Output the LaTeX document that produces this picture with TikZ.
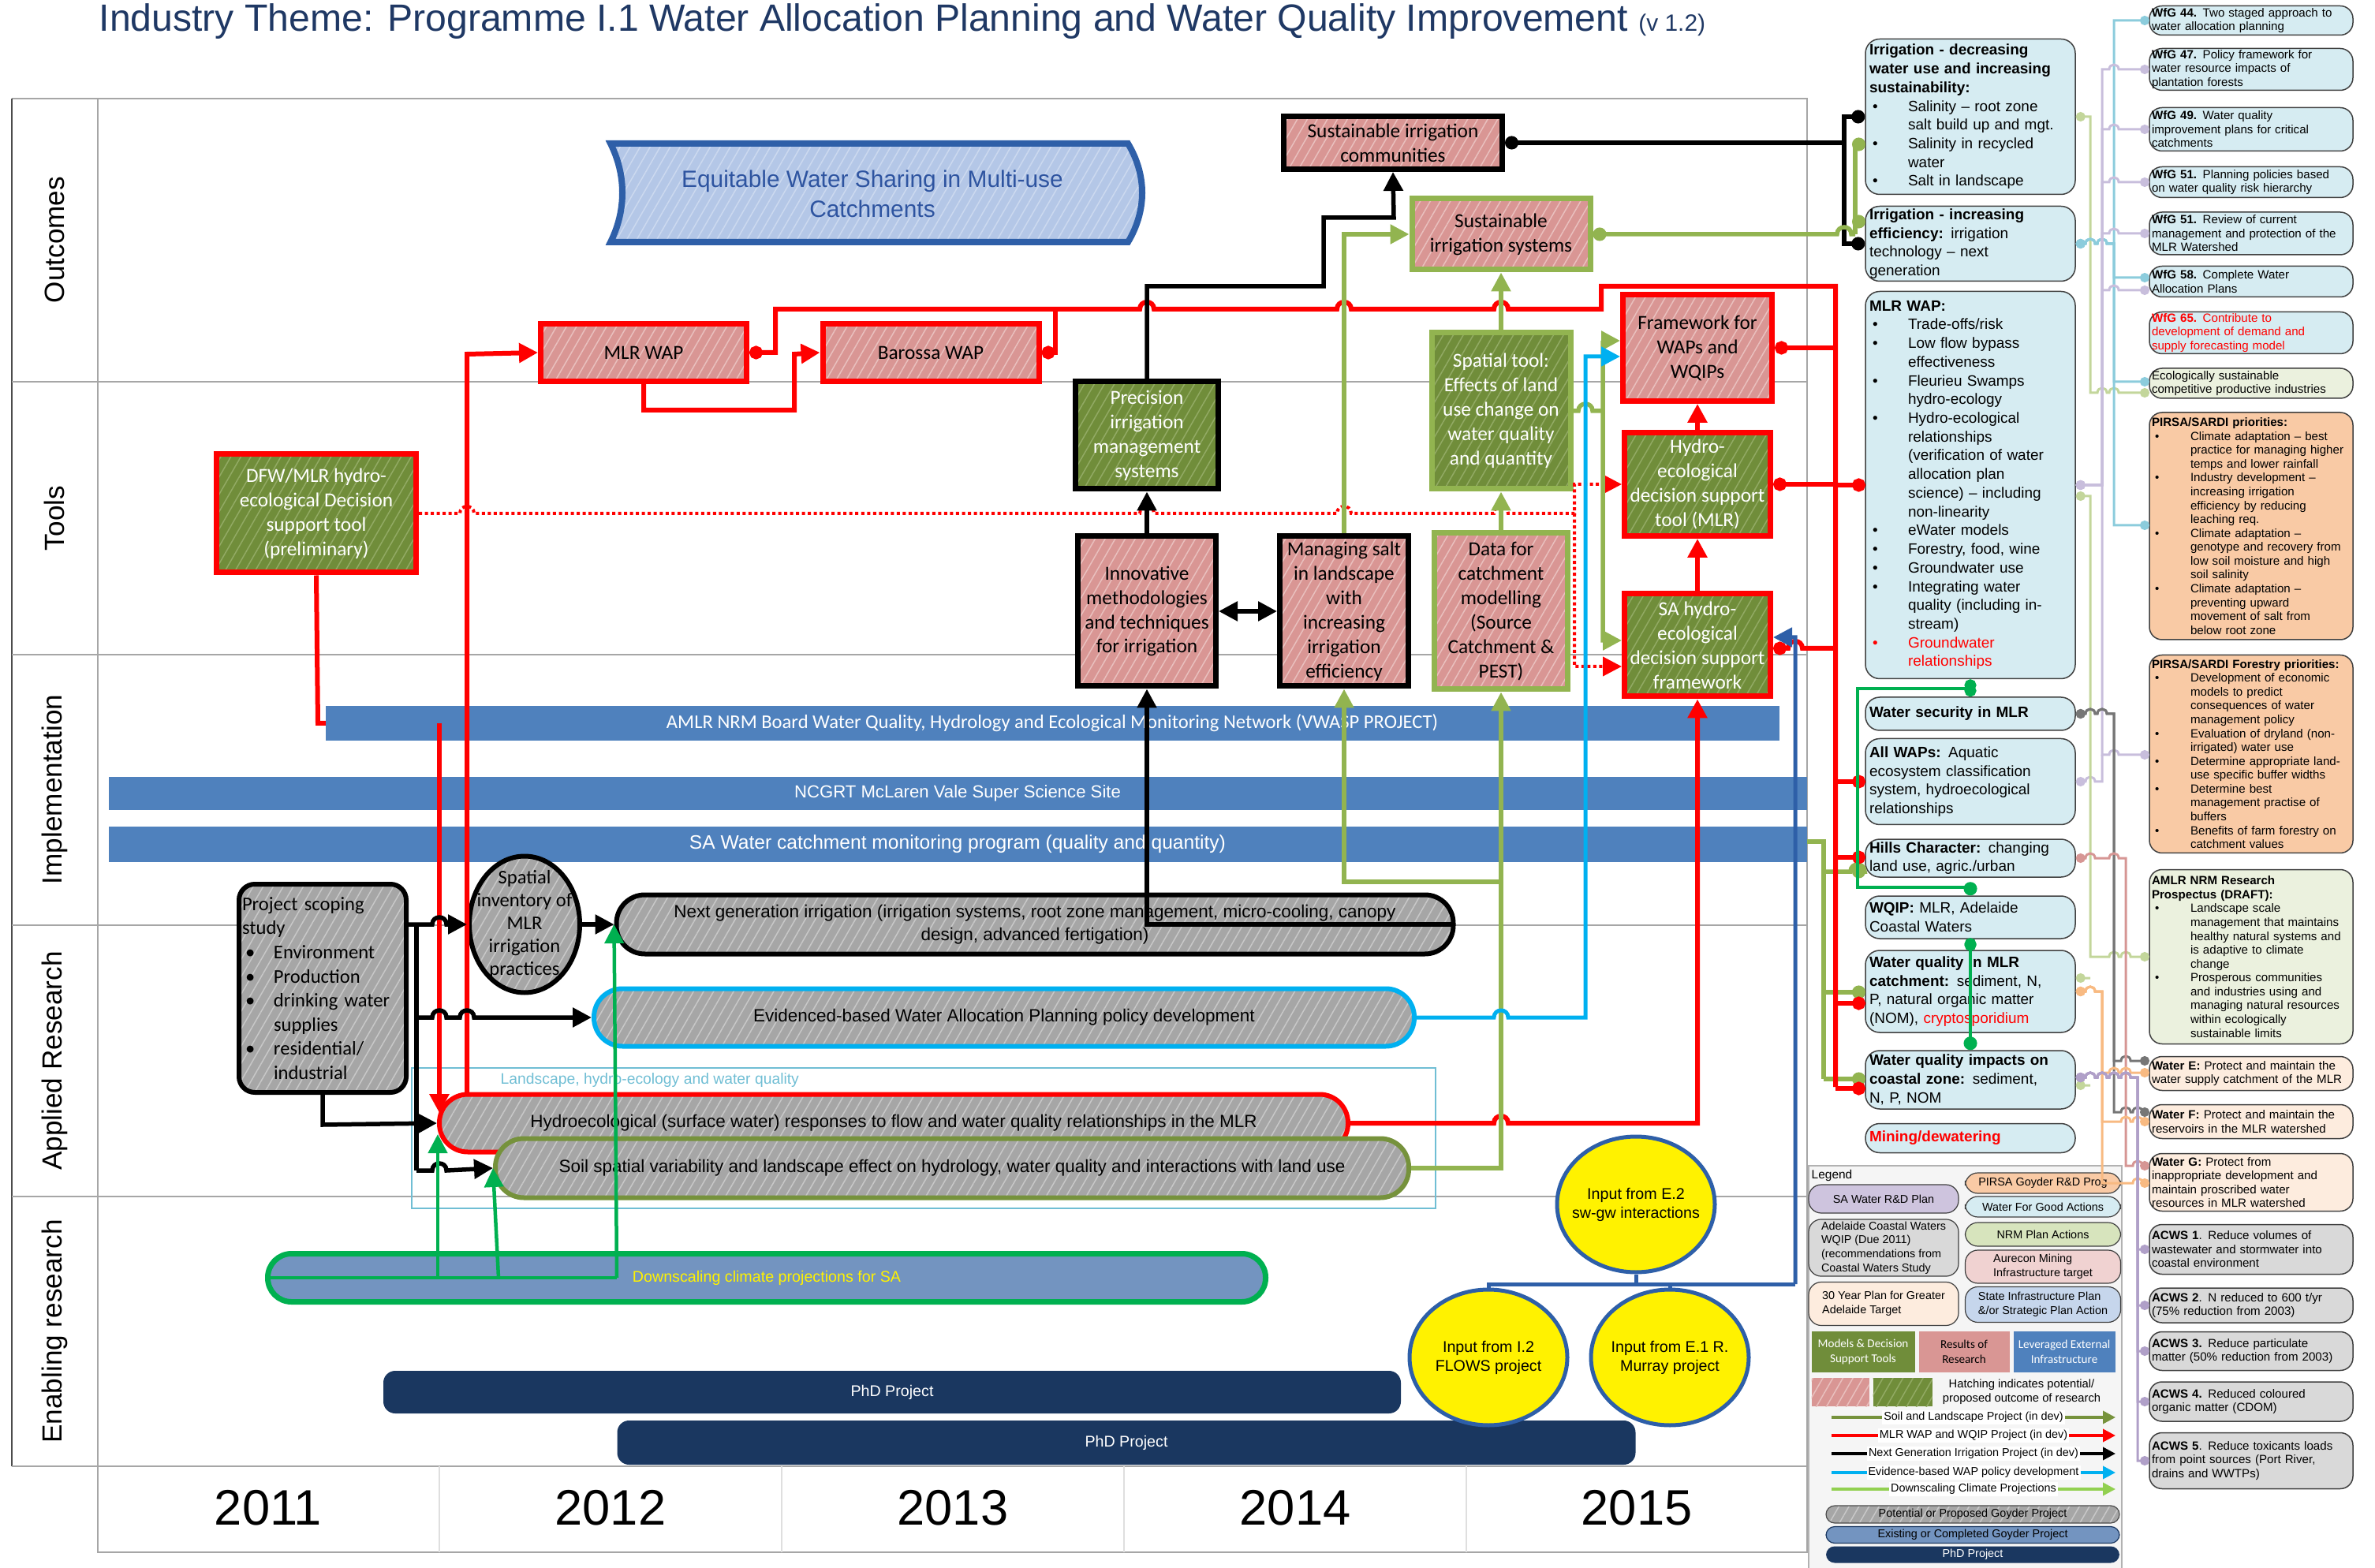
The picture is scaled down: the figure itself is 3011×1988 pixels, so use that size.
\documentclass[tikz,border=0pt]{standalone}
\usepackage{fontspec}
\setmainfont{Liberation Sans}
\newfontfamily\calfont{Carlito}
\usetikzlibrary{arrows.meta,patterns.meta,shapes.misc,shapes.geometric}

\definecolor{titleC}{RGB}{31,56,100}
\definecolor{pinkF}{RGB}{217,150,148}
\definecolor{pinkH}{RGB}{233,192,190}
\definecolor{greenF}{RGB}{112,141,58}
\definecolor{greenH}{RGB}{146,170,100}
\definecolor{grayF}{RGB}{166,166,166}
\definecolor{grayH}{RGB}{200,200,200}
\definecolor{oliveL}{RGB}{146,180,80}
\definecolor{oliveD}{RGB}{118,146,60}
\definecolor{barB}{RGB}{79,129,189}
\definecolor{skyB}{RGB}{0,176,240}
\definecolor{brightG}{RGB}{0,176,80}
\definecolor{navyB}{RGB}{26,55,96}
\definecolor{steelB}{RGB}{115,148,192}
\definecolor{eqF}{RGB}{180,199,231}
\definecolor{eqH}{RGB}{204,217,239}
\definecolor{eqL}{RGB}{46,95,168}
\definecolor{eqT}{RGB}{46,84,160}
\definecolor{landC}{RGB}{112,190,212}
\definecolor{wfgF}{RGB}{214,236,242}
\definecolor{lavF}{RGB}{206,196,222}
\definecolor{nrmF}{RGB}{215,228,189}
\definecolor{nrmL}{RGB}{235,241,222}
\definecolor{pirF}{RGB}{249,202,165}
\definecolor{lpchF}{RGB}{253,236,222}
\definecolor{acwF}{RGB}{217,217,217}
\definecolor{aurF}{RGB}{240,210,209}
\definecolor{sipF}{RGB}{198,214,236}
\definecolor{lbL}{RGB}{140,204,220}
\definecolor{lavL}{RGB}{200,190,220}
\definecolor{lgL}{RGB}{195,214,155}
\definecolor{gryL}{RGB}{118,118,118}
\definecolor{pnkL}{RGB}{214,150,148}
\definecolor{orgL}{RGB}{248,186,130}
\definecolor{purL}{RGB}{176,160,200}
\definecolor{lgnA}{RGB}{146,208,80}

% hops over crossing lines
\newcommand{\hopr}[2]{-- ({#1-9},#2) .. controls ({#1-9},{#2-12}) and ({#1+9},{#2-12}) .. ({#1+9},#2)}
\newcommand{\hops}[2]{-- ({#1-6},#2) .. controls ({#1-6},{#2-8}) and ({#1+6},{#2-8}) .. ({#1+6},#2)}
% bullets
\newcommand{\bitem}[2][4.9mm]{\par\noindent\hangindent=#1\hangafter=1\makebox[#1][l]{\hspace{0.4mm}\textbullet}#2\par}
\newcommand{\ritem}[2][4.9mm]{\par\noindent\hangindent=#1\hangafter=1\makebox[#1][l]{\hspace{0.4mm}\textcolor{red}{\textbullet}}\textcolor{red}{#2}\par}

\begin{document}
\begin{tikzpicture}[x=0.1mm,y=-0.1mm]
\tikzset{
  hatch/.style 2 args={preaction={fill=#1},preaction={pattern={Lines[angle=60,distance=1.1mm,line width=0.15mm]},pattern color=#2}},
  resbox/.style={rectangle,draw=#1,line width=0.7mm,hatch={pinkF}{pinkH},align=center,inner sep=0.3mm,font=\calfont\fontsize{7.2}{8.8}\selectfont},
  toolbox/.style={rectangle,draw=#1,line width=0.7mm,hatch={greenF}{greenH},text=white,align=center,inner sep=0.3mm,font=\calfont\fontsize{7.2}{8.8}\selectfont},
  pill/.style={rectangle,rounded corners=3.6mm,draw=#1,line width=0.6mm,hatch={grayF}{grayH},align=center,inner sep=0.3mm,font=\fontsize{6.4}{8.2}\selectfont},
  bar/.style={rectangle,fill=barB,text=white,inner sep=0},
  rbox/.style={rectangle,rounded corners=1.8mm,draw=black!75,line width=0.15mm,fill=#1,text width=25.6mm,align=left,inner xsep=0.5mm,inner ysep=0,font=\fontsize{5.4}{6.75}\selectfont},
  fbox/.style={rectangle,rounded corners=1.6mm,draw=black!75,line width=0.15mm,fill=#1,text width=25.2mm,align=left,inner xsep=0.3mm,inner ysep=0,font=\fontsize{4.3}{5}\selectfont},
  lgbox/.style={rectangle,rounded corners=1.6mm,draw=black!75,line width=0.12mm,fill=#1,align=left,inner sep=0.3mm,font=\fontsize{4.1}{5}\selectfont},
  lgtile/.style={rectangle,minimum width=#1,minimum height=5.2mm,inner sep=0,align=center,font=\calfont\fontsize{4.3}{5.4}\selectfont},
  yel/.style={ellipse,fill=yellow,draw=eqL,line width=0.5mm,minimum width=20mm,minimum height=17.2mm,inner sep=0},
  lane/.style={rotate=90,font=\fontsize{10}{12}\selectfont},
  redc/.style={red,line width=0.6mm},
  blkc/.style={black,line width=0.55mm},
  olvc/.style={oliveL,line width=0.55mm},
  skyc/.style={skyB,line width=0.5mm},
  grnc/.style={brightG,line width=0.45mm},
  arr/.style={-{Triangle[length=2.4mm,width=2.4mm]}},
  sdot/.style={{Circle[length=1.7mm]}-},
  edot/.style={-{Circle[length=1.7mm]}},
  tl/.style={line width=0.3mm,{Circle[length=1.2mm]}-{Circle[length=1.2mm]}},
  tls/.style={line width=0.3mm,{Circle[length=1.2mm]}-},
}
\useasboundingbox (0,0) rectangle (3011,1988);

% title
\node[anchor=base west,inner sep=0,text=titleC,font=\fontsize{13.7}{15}\selectfont] (title) at (125,40)
  {Industry Theme: Programme I.1 Water Allocation Planning and Water Quality Improvement {\fontsize{8.5}{9}\selectfont (v 1.2)}};

% swimlanes
\draw[gray!70,line width=0.2mm] (15,125) -- (2291,125) -- (2291,1968) -- (124,1968) -- (124,125);
\draw[black!70,line width=0.25mm] (15,125) -- (15,1859);
\foreach \yy in {484,830,1173,1517,1859}
  \draw[gray!70,line width=0.25mm] (15,\yy) -- (2291,\yy);
\foreach \xx in {557,991,1425,1859}
  \draw[gray!25,line width=0.15mm] (\xx,1859) -- (\xx,1968);
\node[lane] (laneOut) at (69,304) {Outcomes};
\node[lane] (laneTool) at (69,657) {Tools};
\node[lane] (laneImp) at (69,1001) {Implementation};
\node[lane] (laneApp) at (69,1345) {Applied Research};
\node[lane] (laneEna) at (69,1688) {Enabling research};
\foreach \yr/\xx in {2011/340,2012/774,2013/1208,2014/1642,2015/2075}
  \node[font=\fontsize{18}{20}\selectfont] (yr\yr) at (\xx,1912) {\yr};

% outcomes
\draw[eqL,line width=0.8mm,hatch={eqF}{eqH}] (774,182) -- (1430,182) .. controls (1454,222) and (1454,267) .. (1430,307)
  -- (774,307) .. controls (794,267) and (794,222) .. (774,182) -- cycle;
\node[text=eqT,align=center,font=\fontsize{8.5}{10.8}\selectfont] (equit) at (1106,246) {Equitable Water Sharing in Multi-use\\Catchments};
\node[resbox=black,minimum width=27.7mm,minimum height=6.7mm] (susComm) at (1766,181) {Sustainable irrigation\\communities};
\node[resbox=oliveL,minimum width=22.6mm,minimum height=9mm] (susSys) at (1903,297) {Sustainable\\irrigation systems};
\node[resbox=red,minimum width=26.1mm,minimum height=7.3mm] (mlrWap) at (816,447) {MLR WAP};
\node[resbox=red,minimum width=27.4mm,minimum height=7.3mm] (barWap) at (1180,447) {Barossa WAP};
\node[resbox=red,minimum width=18.9mm,minimum height=13.5mm] (fwWaps) at (2152,441) {Framework for\\WAPs and\\WQIPs};

% tools
\node[toolbox=red,minimum width=25.3mm,minimum height=15mm] (dfw) at (401,651) {DFW/MLR hydro-\\ecological Decision\\support tool\\(preliminary)};
\node[toolbox=black,minimum width=18.1mm,minimum height=13.6mm] (prec) at (1454,552) {Precision\\irrigation\\management\\systems};
\node[toolbox=oliveL,minimum width=17.6mm,minimum height=19.8mm] (spatTool) at (1903,521) {Spatial tool:\\Effects of land\\use change on\\water quality\\and quantity};
\node[toolbox=red,minimum width=18.5mm,minimum height=13.1mm] (hydTool) at (2152,614) {Hydro-\\ecological\\decision support\\tool (MLR)};
\node[resbox=black,minimum width=17.5mm,minimum height=19mm] (innov) at (1454,775) {Innovative\\methodologies\\and techniques\\for irrigation};
\node[resbox=black,minimum width=16.3mm,minimum height=19mm] (salt) at (1704,775) {Managing salt\\in landscape\\with\\increasing\\irrigation\\efficiency};
\node[resbox=oliveL,minimum width=16.9mm,minimum height=19.8mm] (dataCat) at (1903,775) {Data for\\catchment\\modelling\\(Source\\Catchment \&\\PEST)};
\node[toolbox=red,minimum width=18.5mm,minimum height=13mm] (saFrame) at (2152,818) {SA hydro-\\ecological\\decision support\\framework};

% links that run behind the monitoring bars
\draw[redc] (dfw.south) -- (403,917) -- (557,917);
\draw[olvc] (1903,1067) -- (2300,1067);

% implementation
\node[bar,font=\calfont\fontsize{7}{8}\selectfont,minimum width=184.3mm,minimum height=4.4mm] (amlr) at (1334,917) {AMLR NRM Board Water Quality, Hydrology and Ecological Monitoring Network (VWASP PROJECT)};
\node[bar,font=\fontsize{6.3}{7}\selectfont,minimum width=215.3mm,minimum height=4.2mm] (ncgrt) at (1214,1006) {NCGRT McLaren Vale Super Science Site};
\node[bar,font=\fontsize{7}{8}\selectfont,minimum width=215.3mm,minimum height=4.5mm] (saWater) at (1214,1070) {SA Water catchment monitoring program (quality and quantity)};

% applied research
\node[rectangle,rounded corners=2mm,draw=black,line width=0.6mm,hatch={grayF}{grayH},text width=20.4mm,align=left,inner sep=0.4mm,minimum height=26.4mm,font=\calfont\fontsize{7}{8.7}\selectfont] (scope) at (409,1253)
  {Project scoping\newline study\bitem[4mm]{Environment}\bitem[4mm]{Production}\bitem[4mm]{drinking water\newline supplies}\bitem[4mm]{residential/\newline industrial}};
\node[ellipse,draw=black,line width=0.6mm,hatch={grayF}{grayH},minimum width=14mm,minimum height=17.3mm,inner sep=0,
  label={[align=center,font=\calfont\fontsize{7}{8.2}\selectfont]center:Spatial\\inventory of\\MLR\\irrigation\\practices}] (spInv) at (665,1172) {};
\node[pill=black,minimum width=106.1mm,minimum height=7.5mm] (nextGen) at (1312,1172) {Next generation irrigation (irrigation systems, root zone management, micro-cooling, canopy\\design, advanced fertigation)};
\node[pill=skyB,minimum width=104mm,minimum height=7.3mm] (evid) at (1273,1290) {Evidenced-based Water Allocation Planning policy development};
\draw[landC,line width=0.25mm] (522,1354) rectangle (1820,1532);
\node[anchor=west,inner sep=0,text=landC,font=\fontsize{5.5}{6}\selectfont] (landLbl) at (634,1369) {Landscape, hydro-ecology and water quality};
\node[pill=red,minimum width=115.2mm,minimum height=7.3mm] (hydro) at (1133,1424) {Hydroecological (surface water) responses to flow and water quality relationships in the MLR};
\node[pill=oliveD,minimum width=115.8mm,minimum height=7.5mm] (soil) at (1207,1481) {Soil spatial variability and landscape effect on hydrology, water quality and interactions with land use};

% enabling research
\node[rectangle,rounded corners=3mm,draw=brightG,line width=0.7mm,fill=steelB,text=yellow,minimum width=126.5mm,minimum height=6.1mm,font=\fontsize{5.6}{6}\selectfont] (down) at (972,1620) {Downscaling climate projections for SA};
\node[rectangle,rounded corners=1.5mm,fill=navyB,text=white,minimum width=129mm,minimum height=5.4mm,font=\fontsize{5.6}{6}\selectfont] (phdA) at (1131,1765) {PhD Project};
\node[rectangle,rounded corners=1.5mm,fill=navyB,text=white,minimum width=129.1mm,minimum height=5.6mm,font=\fontsize{5.6}{6}\selectfont] (phdB) at (1428,1829) {PhD Project};
\node[yel,label={[align=center,font=\fontsize{5.6}{6.8}\selectfont]center:Input from E.2\\sw-gw interactions}] (inE2) at (2074,1527) {};
\node[yel,label={[align=center,font=\fontsize{5.6}{6.8}\selectfont]center:Input from I.2\\FLOWS project}] (inI2) at (1887,1721) {};
\node[yel,label={[align=center,font=\fontsize{5.6}{6.8}\selectfont]center:Input from E.1 R.\\Murray project}] (inE1) at (2117,1721) {};

% right column: drivers
\node[rbox=wfgF,minimum height=19.7mm] (rIrrA) at (2498,148) {\textbf{Irrigation - decreasing\newline water use and increasing\newline sustainability:}\bitem{Salinity – root zone\newline salt build up and mgt.}\bitem{Salinity in recycled\newline water}\bitem{Salt in landscape}};
\node[rbox=wfgF,minimum height=9.5mm] (rIrrB) at (2498,309) {\textbf{Irrigation - increasing\newline efficiency:} irrigation\newline technology – next\newline generation};
\node[rbox=wfgF,minimum height=49.1mm] (rWap) at (2498,615) {\textbf{MLR WAP:}\bitem{Trade-offs/risk}\bitem{Low flow bypass\newline effectiveness}\bitem{Fleurieu Swamps\newline hydro-ecology}\bitem{Hydro-ecological\newline relationships\newline (verification of water\newline allocation plan\newline science) – including\newline non-linearity}\bitem{eWater models}\bitem{Forestry, food, wine}\bitem{Groundwater use}\bitem{Integrating water\newline quality (including in-\newline stream)}\ritem{Groundwater\newline relationships}};
\node[rbox=wfgF,minimum height=4.2mm] (rSec) at (2498,905) {\textbf{Water security in MLR}};
\node[rbox=wfgF,minimum height=10.9mm] (rAll) at (2498,991) {\textbf{All WAPs:} Aquatic\newline ecosystem classification\newline system, hydroecological\newline relationships};
\node[rbox=wfgF,minimum height=4.8mm] (rHills) at (2498,1088) {\textbf{Hills Character:} changing\newline land use, agric./urban};
\node[rbox=wfgF,minimum height=5.4mm] (rWqip) at (2498,1163) {\textbf{WQIP:} MLR, Adelaide\newline Coastal Waters};
\node[rbox=wfgF,minimum height=10.4mm] (rWqMlr) at (2498,1257) {\textbf{Water quality in MLR\newline catchment:} sediment, N,\newline P, natural organic matter\newline (NOM), \textcolor{red}{cryptosporidium}};
\node[rbox=wfgF,minimum height=7.4mm] (rWqCz) at (2498,1369) {\textbf{Water quality impacts on\newline coastal zone:} sediment,\newline N, P, NOM};
\node[rbox=wfgF,minimum height=3.7mm] (rMin) at (2498,1443) {\textcolor{red}{\textbf{Mining/dewatering}}};

% far right: plan actions
\node[fbox=wfgF,minimum height=3.7mm] (wfg44) at (2854,26) {\textbf{WfG 44.} Two staged approach to\newline water allocation planning};
\node[fbox=wfgF,minimum height=5.3mm] (wfg47) at (2854,88) {\textbf{WfG 47.} Policy framework for\newline water resource impacts of\newline plantation forests};
\node[fbox=wfgF,minimum height=5.5mm] (wfg49) at (2854,164) {\textbf{WfG 49.} Water quality\newline improvement plans for critical\newline catchments};
\node[fbox=wfgF,minimum height=3.9mm] (wfg51a) at (2854,231) {\textbf{WfG 51.} Planning policies based\newline on water quality risk hierarchy};
\node[fbox=wfgF,minimum height=5.4mm] (wfg51b) at (2854,296) {\textbf{WfG 51.} Review of current\newline management and protection of the\newline MLR Watershed};
\node[fbox=wfgF,minimum height=3.9mm] (wfg58) at (2854,357) {\textbf{WfG 58.} Complete Water\newline Allocation Plans};
\node[fbox=wfgF,minimum height=5.3mm,text=red] (wfg65) at (2854,422) {\textbf{WfG 65.} Contribute to\newline development of demand and\newline supply forecasting model};
\node[fbox=nrmL,minimum height=3.8mm] (ecol) at (2854,486) {Ecologically sustainable\newline competitive productive industries};
\node[fbox=pirF,minimum height=28.8mm] (pirsa) at (2854,667) {\textbf{PIRSA/SARDI priorities:}\bitem{Climate adaptation – best\newline practice for managing higher\newline temps and lower rainfall}\bitem{Industry development –\newline increasing irrigation\newline efficiency by reducing\newline leaching req.}\bitem{Climate adaptation –\newline genotype and recovery from\newline low soil moisture and high\newline soil salinity}\bitem{Climate adaptation –\newline preventing upward\newline movement of salt from\newline below root zone}};
\node[fbox=pirF,minimum height=25.1mm] (pirsaF) at (2854,956) {\textbf{PIRSA/SARDI Forestry priorities:}\bitem{Development of economic\newline models to predict\newline consequences of water\newline management policy}\bitem{Evaluation of dryland (non-\newline irrigated) water use}\bitem{Determine appropriate land-\newline use specific buffer widths}\bitem{Determine best\newline management practise of\newline buffers}\bitem{Benefits of farm forestry on\newline catchment values}};
\node[fbox=nrmL,minimum height=22.1mm] (nrmPros) at (2854,1213) {\textbf{AMLR NRM Research\newline Prospectus (DRAFT):}\bitem{Landscape scale\newline management that maintains\newline healthy natural systems and\newline is adaptive to climate\newline change}\bitem{Prosperous communities\newline and industries using and\newline managing natural resources\newline within ecologically\newline sustainable limits}};
\node[fbox=lpchF,minimum height=4.3mm] (watE) at (2854,1361) {\textbf{Water E:} Protect and maintain the\newline water supply catchment of the MLR};
\node[fbox=lpchF,minimum height=4.3mm] (watF) at (2854,1422) {\textbf{Water F:} Protect and maintain the\newline reservoirs in the MLR watershed};
\node[fbox=lpchF,minimum height=7.3mm] (watG) at (2854,1499) {\textbf{Water G:} Protect from\newline inappropriate development and\newline maintain proscribed water\newline resources in MLR watershed};
\node[fbox=acwF,minimum height=6.3mm] (acwA) at (2854,1584) {\textbf{ACWS 1}. Reduce volumes of\newline wastewater and stormwater into\newline coastal environment};
\node[fbox=acwF,minimum height=4.4mm] (acwB) at (2854,1655) {\textbf{ACWS 2}. N reduced to 600 t/yr\newline (75\% reduction from 2003)};
\node[fbox=acwF,minimum height=4.9mm] (acwC) at (2854,1713) {\textbf{ACWS 3.} Reduce particulate\newline matter (50\% reduction from 2003)};
\node[fbox=acwF,minimum height=5mm] (acwD) at (2854,1777) {\textbf{ACWS 4.} Reduced coloured\newline organic matter (CDOM)};
\node[fbox=acwF,minimum height=7.1mm] (acwE) at (2854,1852) {\textbf{ACWS 5}. Reduce toxicants loads\newline from point sources (Port River,\newline drains and WWTPs)};

% legend
\node[rectangle,draw=gray!60,fill=gray!8,line width=0.15mm,anchor=north west,minimum width=39.7mm,minimum height=51.5mm,inner sep=0] (legend) at (2292,1477) {};
\node[anchor=west,inner sep=0,font=\fontsize{4.4}{5}\selectfont] (legT) at (2296,1490) {Legend};
\node[lgbox=lavF,minimum width=19mm,minimum height=3.6mm] (lgSaw) at (2388,1520) {SA Water R\&D Plan};
\node[lgbox=acwF,minimum width=19mm,minimum height=7mm] (lgAcw) at (2388,1582) {Adelaide Coastal Waters\\WQIP (Due 2011)\\(recommendations from\\Coastal Waters Study};
\node[lgbox=lpchF,minimum width=19mm,minimum height=5.5mm] (lgThy) at (2388,1653) {30 Year Plan for Greater\\Adelaide Target};
\node[lgbox=pirF,minimum width=19.7mm,minimum height=2.6mm] (lgPir) at (2590,1500) {PIRSA Goyder R\&D Prog};
\node[lgbox=wfgF,minimum width=19.7mm,minimum height=2.6mm] (lgWfg) at (2590,1530) {Water For Good Actions};
\node[lgbox=nrmF,minimum width=19.7mm,minimum height=3mm] (lgNrm) at (2590,1565) {NRM Plan Actions};
\node[lgbox=aurF,minimum width=19.7mm,minimum height=4.2mm] (lgAur) at (2590,1606) {Aurecon Mining\\Infrastructure target};
\node[lgbox=sipF,minimum width=19.7mm,minimum height=4.5mm] (lgSip) at (2590,1654) {State Infrastructure Plan\\\&/or Strategic Plan Action};
\node[lgtile=13.1mm,fill=greenF,text=white] (lgMod) at (2362,1714) {Models \& Decision\\Support Tools};
\node[lgtile=11.5mm,fill=pinkF] (lgRes) at (2490,1714) {Results of\\Research};
\node[lgtile=12.9mm,fill=barB,text=white] (lgLev) at (2617,1714) {Leveraged External\\Infrastructure};
\node[rectangle,hatch={pinkF}{pinkH},minimum width=7.3mm,minimum height=3.6mm,inner sep=0] (lgHp) at (2333,1765) {};
\node[rectangle,hatch={greenF}{greenH},minimum width=7.5mm,minimum height=3.6mm,inner sep=0] (lgHg) at (2412,1765) {};
\node[align=center,inner sep=0,font=\fontsize{4.2}{5.2}\selectfont] (lgHt) at (2563,1765) {Hatching indicates potential/\\proposed outcome of research};
\foreach \yy/\cc/\lbl in {1797/oliveD/Soil and Landscape Project (in dev),1820/red/MLR WAP and WQIP Project (in dev),1843/black/Next Generation Irrigation Project (in dev),1867/skyB/Evidence-based WAP policy development,1888/lgnA/Downscaling Climate Projections}{
  \draw[\cc,line width=0.35mm,-{Triangle[length=1.6mm,width=1.6mm]}] (2322,\yy) -- (2682,\yy);
  \node[fill=white,inner sep=0.2mm,font=\fontsize{4.1}{4.5}\selectfont] (lgL\yy) at (2502,\yy) {\lbl};
}
\node[rectangle,rounded corners=1.1mm,draw=gray!60!black,line width=0.12mm,hatch={grayF}{grayH},minimum width=37.2mm,minimum height=2.2mm,inner sep=0,font=\fontsize{4.1}{4.5}\selectfont] (lgPot) at (2501,1920) {Potential or Proposed Goyder Project};
\node[rectangle,rounded corners=1.1mm,draw=navyB,line width=0.12mm,fill=steelB,minimum width=37.2mm,minimum height=2.1mm,inner sep=0,font=\fontsize{4.1}{4.5}\selectfont] (lgExi) at (2501,1946) {Existing or Completed Goyder Project};
\node[rectangle,rounded corners=1.1mm,fill=navyB,text=white,minimum width=37.2mm,minimum height=2.1mm,inner sep=0,font=\fontsize{4.1}{4.5}\selectfont] (lgPhd) at (2501,1971) {PhD Project};

% --- olive to the catchment drivers (drawn under the red bus)
\draw[olvc] (2300,1067) -- (2312,1067) -- (2312,1368);
\draw[olvc,edot] (2312,1105) \hopr{2355}{1105} -- (2365,1105);
\draw[olvc,edot] (2312,1258) -- (2365,1258);
\draw[olvc,edot] (2312,1368) -- (2365,1368);

% --- red: MLR WAP and WQIP project
\draw[redc,arr] (557,917) -- (557,1411);
\draw[redc,arr] (592,1388) -- (592,449) -- (mlrWap.west);
\draw[redc,arr] (mlrWap.south) -- (816,520) -- (1007,520) -- (1007,449) -- (barWap.west);
\draw[redc,sdot] (mlrWap.east) -- (983,447) -- (983,392) \hopr{1454}{392} \hopr{1704}{392} \hopr{1903}{392} -- (2030,392) -- (2030,363) -- (2327,363) -- (2327,1378);
\draw[redc,sdot] (barWap.east) -- (1338,447) -- (1338,392);
\draw[redc,sdot] (fwWaps.east) -- (2327,441);
\draw[redc,sdot] (hydTool.east) -- (2327,614);
\draw[redc,sdot] ([yshift=-0.4mm]saFrame.east) \hopr{2276}{822} -- (2327,822);
\foreach \yy in {615,991,1087,1272,1380}
  \draw[redc,edot] (2327,\yy) -- (2365,\yy);
\draw[redc,arr] (saFrame.north) -- (hydTool.south);
\draw[redc,arr] (hydTool.north) -- (fwWaps.south);
\draw[redc,arr] (hydro.east) \hopr{1903}{1424} -- (2152,1424) -- (saFrame.south);
\draw[redc,line width=0.4mm,densely dotted,arr] (dfw.east) \hopr{592}{651} \hopr{1454}{651} \hopr{1704}{651} \hopr{1903}{651} -- (1996,651) -- (1996,614) -- (hydTool.west);
\draw[redc,line width=0.4mm,densely dotted,arr] (1996,651) -- (1996,845) -- ([yshift=-2.7mm]saFrame.west);

% --- black: next generation irrigation project
\draw[blkc,sdot] (susComm.east) -- (2338,181);
\draw[blkc,edot] (2338,181) -- (2338,148) -- (rIrrA.west |- 2365,148);
\draw[blkc,edot] (2338,181) -- (2338,309) -- (rIrrB.west);
\draw[blkc,arr] (prec.north) -- (1454,363) -- (1678,363) -- (1678,276) -- (1767,276) -- (susComm.south);
\draw[blkc,arr] (innov.north) -- (prec.south);
\draw[blkc,{Triangle[length=2.4mm,width=2.4mm]}-{Triangle[length=2.4mm,width=2.4mm]}] (innov.east) -- (salt.west);
\draw[blkc,arr] (1843,1172) -- (1454,1172) -- (innov.south);
\draw[blkc,arr] (515,1172) \hopr{557}{1172} -- (spInv.west);
\draw[blkc] (528,1172) -- (528,1484);
\draw[blkc,arr] (528,1290) \hopr{557}{1290} \hopr{592}{1290} -- (evid.west);
\draw[blkc,arr] (528,1484) \hopr{557}{1484} -- (soil.west);
\draw[blkc,arr] (scope.south) -- (409,1426) -- (hydro.west);
\draw[blkc,arr] (spInv.east) -- (nextGen.west);

% --- olive: soil and landscape project
\draw[olvc,arr] (soil.east) -- (1903,1481) -- (dataCat.south);
\draw[olvc,arr] (1903,1118) -- (1704,1118) -- (salt.south);
\draw[olvc,arr] (dataCat.north) -- (spatTool.south);
\draw[olvc,arr] (spatTool.north) -- (susSys.south);
\draw[olvc,arr] (salt.north) -- (1704,297) -- (susSys.west);
\draw[olvc] (spatTool.east) \hopr{2010}{521} -- (2032,521);
\draw[olvc,arr] (2032,521) -- (2032,432) -- ([yshift=0.9mm]fwWaps.west);
\draw[olvc,arr] (2032,521) -- (2032,812) -- ([yshift=0.6mm]saFrame.west);
\draw[olvc,sdot] (susSys.east) \hopr{2338}{297} -- (2352,297);
\draw[olvc,edot] (2352,297) -- (2352,183) -- (2365,183);
\draw[olvc,edot] (2352,297) -- (2352,281) -- (2365,281);

% --- cyan: evidence-based WAP policy
\draw[skyc,arr] (evid.east) \hopr{1903}{1290} -- (2010,1290) -- (2010,452) -- ([yshift=-1.1mm]fwWaps.west);

% --- green: downscaling climate projections
\draw[grnc] (342,1620) -- (782,1620);
\draw[grnc,arr] (555,1620) -- (555,1438);
\draw[grnc,arr] (632,1620) -- (soil.west);
\draw[grnc,arr] (782,1620) -- (nextGen.west);

% --- dark blue: inputs from other projects
\draw[eqL,line width=0.5mm] (inE2.south) -- (2074,1628);
\draw[eqL,line width=0.5mm] (inI2.north) -- (1887,1628) -- (2276,1628);
\draw[eqL,line width=0.5mm] (inE1.north) -- (2117,1628);
\draw[eqL,line width=0.5mm,arr] (2276,1628) -- (2276,808) -- ([yshift=1mm]saFrame.east);

% --- green links between drivers
\draw[grnc,{Circle[length=1.5mm]}-{Circle[length=1.5mm]}] (rWap.south) -- (rSec.north);
\draw[grnc,edot] (2498,873) -- (2355,873) -- (2355,1125) -- (2498,1125) -- (rWqip.north);
\draw[grnc,{Circle[length=1.5mm]}-{Circle[length=1.5mm]}] (rWqip.south) -- (rWqMlr.north);
\draw[grnc,edot] (rWqMlr.north) -- (rWqCz.north);

% --- thin links to plans and targets
\draw[tl,lgL] (rIrrA.east) -- (2650,148) -- (2650,498) \hops{2665}{498} \hops{2680}{498} -- (2725,498);
\foreach \yy in {26,352,484,666}
  \draw[tl,lbL] (rIrrB.east) \hops{2650}{309} \hops{2665}{309} -- (2680,309) -- (2680,\yy) -- (2725,\yy);
\foreach \yy in {88,164,231,296,368}
  \draw[tl,lavL] (rWap.east) -- (2665,615) -- (2665,\yy) \hops{2680}{\yy} -- (2725,\yy);
\draw[tl,lavL] (rWap.east) -- (2665,615) -- (2665,957) \hops{2680}{957} -- (2725,957);
\draw[tls,lavL] (rAll.east) \hops{2650}{991} -- (2665,991) -- (2665,957);
\draw[tl,lgL] ([yshift=-1.4mm]rWap.east) -- (2650,629) -- (2650,1213) \hops{2680}{1213} \hops{2695}{1213} -- (2725,1213);
\draw[tls,lgL] ([yshift=1.7mm]rWqMlr.east) -- (2650,1240);
\draw[tls,lgL] ([yshift=-0.7mm]rWqCz.east) -- (2650,1376);
\draw[tl,gryL] (rSec.east) \hops{2650}{905} \hops{2665}{905} -- (2680,905) -- (2680,1345) \hops{2695}{1345} -- (2725,1345);
\draw[tl,gryL] (rSec.east) \hops{2650}{905} \hops{2665}{905} -- (2680,905) -- (2680,1410) \hops{2695}{1410} \hops{2710}{1410} -- (2725,1410);
\draw[tl,pnkL] (rHills.east) \hops{2650}{1088} \hops{2680}{1088} -- (2695,1088) -- (2695,1478) \hops{2710}{1478} -- (2725,1478);
\draw[tl,orgL] (rWqMlr.east) \hops{2650}{1257} -- (2665,1257) -- (2665,1360) \hops{2680}{1360} \hops{2695}{1360} -- (2725,1360);
\draw[tl,orgL] (rWqMlr.east) \hops{2650}{1257} -- (2665,1257) -- (2665,1422) \hops{2695}{1422} \hops{2710}{1422} -- (2725,1422);
\draw[tl,orgL] (rWqMlr.east) \hops{2650}{1257} -- (2665,1257) -- (2665,1500) \hops{2710}{1500} -- (2725,1500);
\foreach \yy in {1584,1655,1713,1777,1852}
  \draw[tl,purL] ([yshift=0.3mm]rWqCz.east) \hops{2650}{1366} \hops{2665}{1366} \hops{2680}{1366} \hops{2695}{1366} -- (2710,1366) -- (2710,\yy) -- (2725,\yy);
\end{tikzpicture}
\end{document}
